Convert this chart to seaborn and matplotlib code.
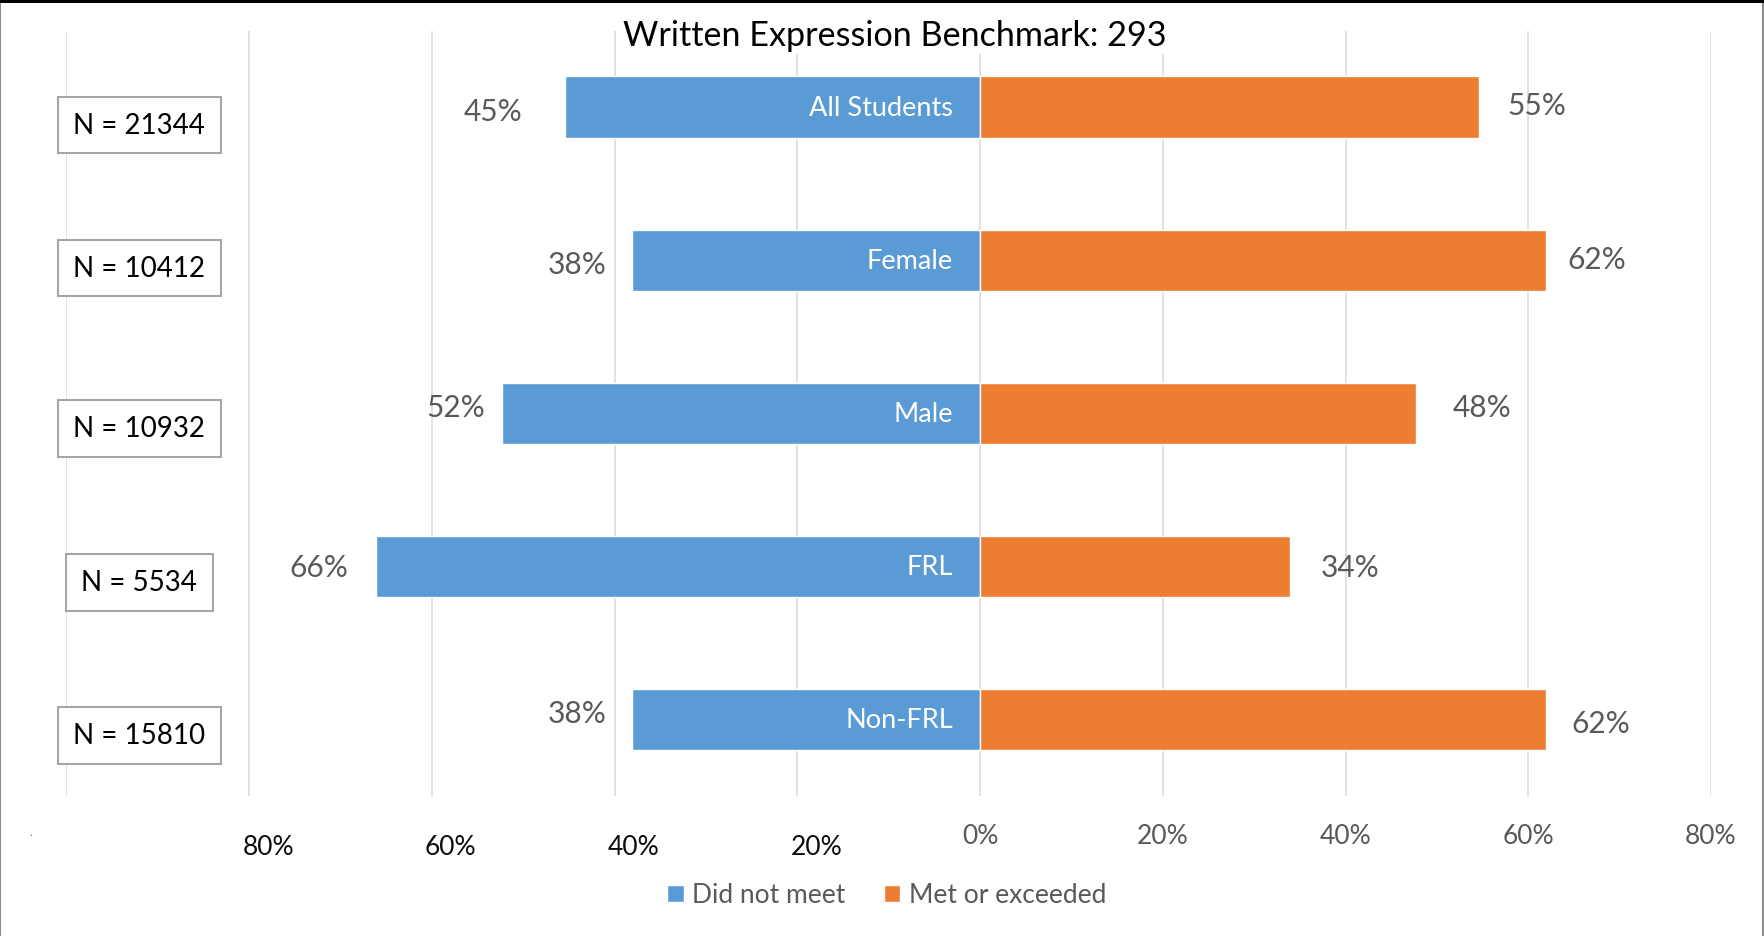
import pandas as pd
import matplotlib
import matplotlib.pyplot as plt
import seaborn as sns
from matplotlib.patches import Patch
from matplotlib.lines import Line2D

matplotlib.use("Agg")

# Data (percent of students)
groups = ["All Students", "Female", "Male", "FRL", "Non-FRL"]
did_not_meet = [45.4, 38.1, 52.3, 66.1, 38.1]
met_or_exceeded = [54.6, 61.9, 47.7, 33.9, 61.9]
group_sizes = [21344, 10412, 10932, 5534, 15810]
series_names = ["Did not meet", "Met or exceeded"]
x_ticks = [-100, -80, -60, -40, -20, 0, 20, 40, 60, 80]
title = "Written Expression Benchmark: 293"

BLUE = "#5B9BD5"
ORANGE = "#ED7D31"
GRID = "#D9D9D9"
TEXT_GRAY = "#595959"
PX = 72 / 100  # points per pixel at dpi 100

# hand-placed label nudges (pixels; gap from bar end, + dy = down), like the source sheet
blue_gap = [43, 25, 17, 28, 25]
blue_dy = [4, 4, -6, 1, -6]
orange_gap = [28, 22, 37, 31, 26]
orange_dy = [-2, -1, -6, 1, 4]
box_dy = [18, 8, 15, 16, 16]

W, H = 1765, 937

sns.set_theme(style="white")
plt.rcParams["font.family"] = ["Lato", "DejaVu Sans"]

df = pd.DataFrame(
    {
        "group": groups * 2,
        "series": [series_names[0]] * len(groups) + [series_names[1]] * len(groups),
        "value": [-v for v in did_not_meet] + met_or_exceeded,
    }
)

fig = plt.figure(figsize=(W / 100, H / 100), dpi=100)
ax = fig.add_axes([66.4 / W, 1 - 797 / H, (1711 - 66.4) / W, (797 - 31.5) / H])

sns.barplot(
    data=df,
    x="value",
    y="group",
    hue="series",
    order=groups,
    hue_order=series_names,
    palette={series_names[0]: BLUE, series_names[1]: ORANGE},
    saturation=1,
    dodge=False,
    width=0.4,
    orient="h",
    edgecolor="white",
    linewidth=1,
    legend=False,
    ax=ax,
    zorder=2,
)

ax.set_xlim(-100, 80)
ax.set_ylim(4.5, -0.5)
ax.set_xlabel("")
ax.set_ylabel("")
ax.set_axisbelow(True)
ax.grid(axis="x", color=GRID, lw=1.5 * PX)
ax.grid(axis="y", visible=False)
for s in ax.spines.values():
    s.set_visible(False)

ax.set_xticks(x_ticks)
ax.set_xticklabels([f"{t}%" if t >= 0 else "" for t in x_ticks])
ax.tick_params(axis="x", length=0, pad=19.5, labelsize=19, labelcolor=TEXT_GRAY)
ax.tick_params(axis="y", left=False, labelleft=False)

# left side tick labels (typed as text boxes in the original, slightly offset)
for t in x_ticks:
    if -100 < t < 0:
        ax.annotate(f"{-t}%", xy=(t, 0), xycoords=("data", "axes fraction"),
                    xytext=(19 * PX, -51 * PX), textcoords="offset points",
                    ha="center", va="center", fontsize=19, color="#0D0D0D",
                    annotation_clip=False)
ax.annotate(".", xy=(-100, 0), xycoords=("data", "axes fraction"),
            xytext=(-36 * PX, -36 * PX), textcoords="offset points",
            ha="center", va="center", fontsize=8, color=TEXT_GRAY,
            annotation_clip=False)

for i, g in enumerate(groups):
    b = did_not_meet[i]
    o = met_or_exceeded[i]
    ax.annotate(f"{round(b)}%", xy=(-b, i), xytext=(-blue_gap[i] * PX, -blue_dy[i] * PX),
                textcoords="offset points", ha="right", va="center",
                fontsize=21.5, color=TEXT_GRAY)
    ax.annotate(f"{round(o)}%", xy=(o, i), xytext=(orange_gap[i] * PX, -orange_dy[i] * PX),
                textcoords="offset points", ha="left", va="center",
                fontsize=21.5, color=TEXT_GRAY)
    ax.annotate(g, xy=(0, i), xytext=(-27 * PX, 0), textcoords="offset points",
                ha="right", va="center", fontsize=19.5, color="white", zorder=4)
    ax.annotate(f"N = {group_sizes[i]}", xy=(-100, i),
                xytext=(73 * PX, -box_dy[i] * PX), textcoords="offset points",
                ha="center", va="center", fontsize=20, color="black",
                bbox=dict(boxstyle="square,pad=0.55", fc="white", ec="#A6A6A6", lw=1.5),
                annotation_clip=False, zorder=4)

fig.text(895 / W, 1 - 46 / H, title, ha="center", va="baseline", fontsize=24.6,
         color="black", bbox=dict(fc="white", ec="none", pad=2))

fig.legend(
    handles=[Patch(fc=BLUE), Patch(fc=ORANGE)],
    labels=series_names,
    loc="center",
    bbox_to_anchor=(887 / W, 1 - 896 / H),
    ncol=2,
    frameon=False,
    fontsize=19,
    labelcolor=TEXT_GRAY,
    handlelength=0.62,
    handleheight=0.62,
    handletextpad=0.34,
    columnspacing=1.45,
)

# outer chart frame
fig.add_artist(Line2D([0.5 / W, 0.5 / W], [0, 1], transform=fig.transFigure, color="#8C8C8C", lw=1.5))
fig.add_artist(Line2D([1 - 1.5 / W, 1 - 1.5 / W], [0, 1], transform=fig.transFigure, color="#8C8C8C", lw=1.5))
fig.add_artist(Line2D([0, 1], [1 - 1.5 / H, 1 - 1.5 / H], transform=fig.transFigure, color="black", lw=3 * PX))

fig.savefig("out.png", dpi=100)
